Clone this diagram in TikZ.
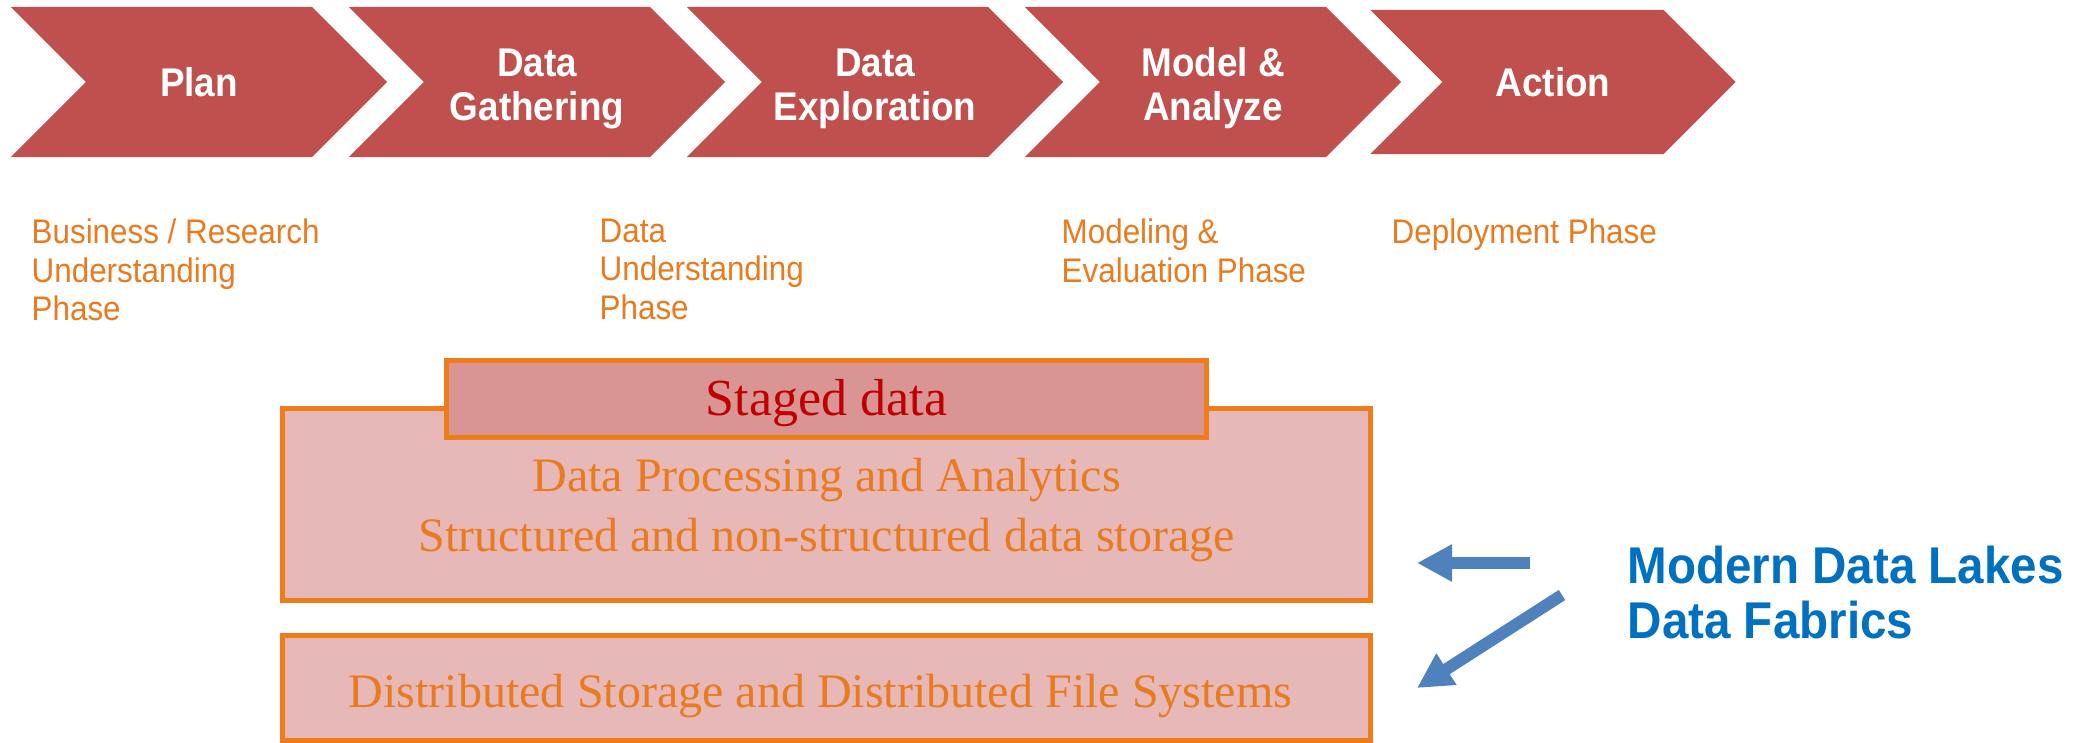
\documentclass[tikz,border=0pt]{standalone}
\usepackage{fontspec}
\usepackage{xcolor}
\usepackage{tikz}
\usetikzlibrary{positioning,arrows.meta,shapes.symbols}
\setmainfont{Liberation Serif}
\newfontfamily\headfont[FakeStretch=0.92]{Liberation Sans}
\definecolor{stagered}{RGB}{192,80,77}
\definecolor{boxpink}{RGB}{230,184,183}
\definecolor{stagedpink}{RGB}{217,149,148}
\definecolor{edgeorange}{RGB}{238,125,25}
\definecolor{textorange}{RGB}{234,122,30}
\definecolor{darkred}{RGB}{192,0,0}
\definecolor{lakeblue}{RGB}{0,112,192}
\definecolor{arrowblue}{RGB}{79,129,189}
% taller first line, pushes a multi-line node text down a little
\newcommand{\liftto}[1]{\rule{0pt}{#1}}

\begin{document}
\begin{tikzpicture}[
            x=0.01cm, y=-0.01cm,
            stage/.style={signal, signal from=west, signal to=east, signal pointer angle=90,
                         fill=stagered, text=white, inner sep=0pt,
                         minimum width=3.76cm, minimum height=1.5cm, align=center,
                         font=\headfont\bfseries\fontsize{11.4pt}{12.5pt}\selectfont},
            phase/.style={anchor=north west, inner sep=0pt, align=left, text=textorange,
                         font=\headfont\fontsize{9.7pt}{11pt}\selectfont},
            layer/.style={rectangle, draw=edgeorange, line width=0.05cm, fill=boxpink,
                         text=textorange, align=center, minimum width=10.88cm,
                         font=\fontsize{13.66pt}{17.1pt}\selectfont},
            bigarrow/.style={draw=arrowblue, line width=0.12cm,
                         -{Triangle[length=0.35cm, width=0.35cm]}}
        ]
            \useasboundingbox (0,0) rectangle (2088,743);

            % process chevrons
            \node[stage] (plan) at (199,82) {Plan};
            \node[stage] (gather) at (537,82) {\liftto{11.8pt}Data\\Gathering};
            \node[stage] (explore) at (875,82) {\liftto{11.8pt}Data\\Exploration};
            \node[stage] (model) at (1213,82) {\liftto{11.8pt}Model \&\\Analyze};
            \node[stage, minimum width=3.65cm, minimum height=1.44cm] (action) at (1553,82) {Action};

            % phase notes under the chevrons
            \node[phase] (bizphase) at (31,218) {Business / Research\\Understanding\\Phase};
            \node[phase] (dataphase) at (599,218) {Data\\Understanding\\Phase};
            \node[phase] (evalphase) at (1061,218) {Modeling \&\\Evaluation Phase};
            \node[phase] (deployphase) at (1391,218) {Deployment Phase};

            % storage layers
            \node[layer, minimum height=1.92cm] (analytics) at (826.5,504.5) {
                \liftto{12.7pt}Data Processing and Analytics\\
                Structured and non-structured data storage
            };
            \node[layer, minimum width=7.6cm, minimum height=0.77cm, fill=stagedpink,
                  text=darkred, text height=9.2pt, text depth=0pt,
                  font=\fontsize{14.8pt}{17pt}\selectfont] (staged) at (826.5,399) {Staged data};
            \node[layer, minimum height=1.05cm, text height=11pt, text depth=0pt] (storage) at (826.5,688) {
                Distributed Storage and Distributed File Systems
            };

            % lakes and fabrics
            \node[anchor=north west, inner sep=0pt, align=left, text=lakeblue,
                  font=\headfont\bfseries\fontsize{14.7pt}{15.6pt}\selectfont] (lakes) at (1627,545) {
                Modern Data Lakes\\Data Fabrics
            };

            \coordinate (lakeleft) at (1530,563);
            \coordinate (laketip) at (1417,563);
            \coordinate (fabricleft) at (1562,595);
            \coordinate (fabrictip) at (1417,688);

            \draw[bigarrow] (lakeleft) -- (laketip);
            \draw[bigarrow] (fabricleft) -- (fabrictip);
        \end{tikzpicture}
\end{document}
